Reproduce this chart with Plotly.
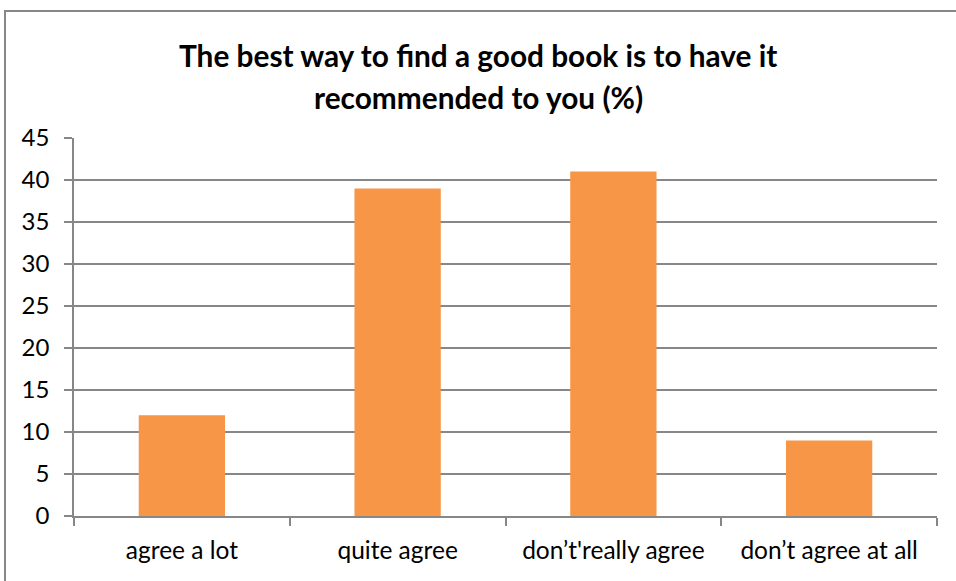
import plotly.graph_objects as go

categories = ["agree a lot", "quite agree", "don\u2019t'really agree", "don\u2019t agree at all"]
values = [12, 39, 41, 9]
y_ticks = [0, 5, 10, 15, 20, 25, 30, 35, 40, 45]

title_lines = ["The best way to find a good book is to have it", "recommended to you (%)"]

W, H = 956, 581
L, R, T, B = 74, 19, 138, 65
plot_w = W - L - R
plot_h = H - T - B


def px_x(px):
    return (px - L) / plot_w


def px_y(py):
    return (H - B - py) / plot_h


GRID = "#878787"
FONT = "Lato, Calibri, 'Open Sans', sans-serif"

fig = go.Figure(
    go.Bar(
        x=categories,
        y=values,
        marker=dict(color="#F79646", line=dict(width=0)),
        width=0.4,
    )
)

fig.update_layout(
    width=W,
    height=H,
    margin=dict(l=L, r=R, t=T, b=B, pad=0),
    paper_bgcolor="white",
    plot_bgcolor="white",
    showlegend=False,
    font=dict(family=FONT, size=24, color="#000000"),
)

fig.update_xaxes(
    showline=True,
    linecolor=GRID,
    linewidth=1.5,
    ticks="outside",
    tickson="boundaries",
    ticklen=8,
    tickcolor=GRID,
    tickwidth=1.5,
    showgrid=False,
    tickfont=dict(size=24.5),
    ticklabelstandoff=12,
)

fig.update_yaxes(
    range=[0, 45],
    tickvals=y_ticks,
    showline=True,
    linecolor=GRID,
    linewidth=1.5,
    ticks="outside",
    ticklen=8,
    tickcolor=GRID,
    tickwidth=1.5,
    showgrid=True,
    gridcolor=GRID,
    gridwidth=1.5,
    zeroline=False,
    tickfont=dict(size=24),
    ticklabelstandoff=10,
)

# title, two centred bold lines
for text, cy in zip(title_lines, [55, 97]):
    fig.add_annotation(
        text="<b>" + text + "</b>",
        xref="paper",
        yref="paper",
        x=px_x(W / 2),
        y=px_y(cy),
        xanchor="center",
        yanchor="middle",
        showarrow=False,
        font=dict(family=FONT, size=29.8, color="#000000"),
    )

# chart frame
fig.add_shape(
    type="rect",
    xref="paper",
    yref="paper",
    x0=px_x(5),
    x1=px_x(W + 10),
    y0=px_y(H + 10),
    y1=px_y(11),
    line=dict(color=GRID, width=2),
    fillcolor="rgba(0,0,0,0)",
    layer="below",
)

fig.write_html("out.html")
